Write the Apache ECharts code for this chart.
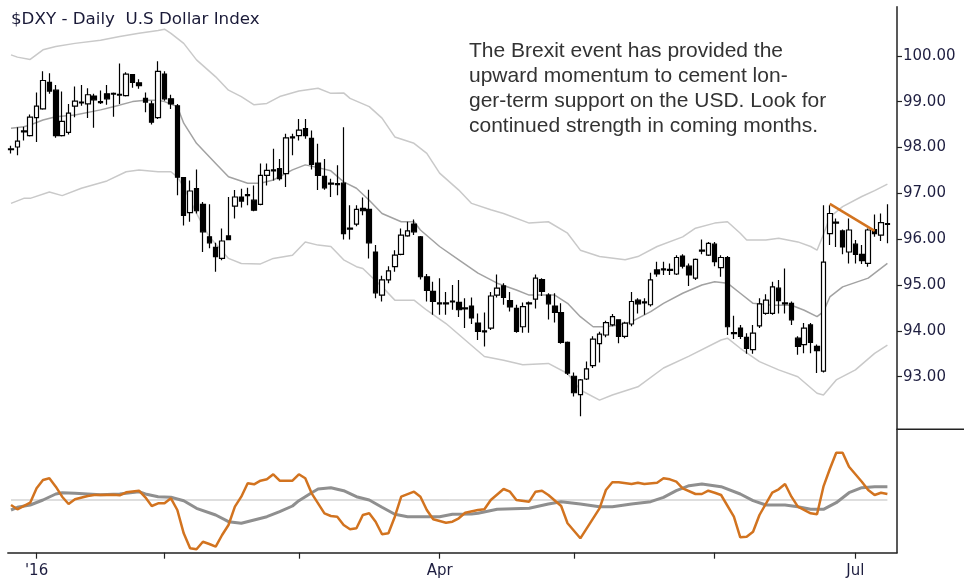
<!DOCTYPE html>
<html><head><meta charset="utf-8">
<script src="https://cdn.jsdelivr.net/npm/echarts@6/dist/echarts.min.js"></script>
<style>html,body{margin:0;padding:0;background:#fff}#c{width:964px;height:586px}</style>
</head><body><div id="c"></div>
<script>
// ---- data ----
// candles: [open, close, low, high]
const ohlc = [
[97.95,97.97,97.87,98.04],[98.01,98.14,97.83,98.44],[98.34,98.36,98.15,98.45],[98.26,98.66,98.24,98.72],
[98.65,98.90,98.12,99.20],[98.84,99.46,98.82,99.66],[99.42,99.23,99.17,99.62],[99.25,98.26,98.21,99.36],
[98.26,98.57,98.24,99.22],[98.33,98.75,98.28,98.95],[98.90,99.01,98.66,99.33],[98.97,98.99,98.91,99.36],
[98.95,99.15,98.64,99.29],[99.12,99.04,98.43,99.17],[98.98,99.00,98.95,99.24],[99.17,99.06,98.93,99.36],
[99.16,99.18,98.67,99.20],[99.14,99.16,98.95,99.83],[99.13,99.60,99.11,99.64],[99.59,99.42,99.30,99.60],
[99.41,99.35,99.28,99.49],[99.07,98.99,98.77,99.20],[98.95,98.55,98.50,99.02],[98.65,99.66,98.62,99.88],
[99.60,99.06,99.02,99.66],[99.06,98.95,98.84,99.15],[98.91,97.35,96.96,98.95],[97.34,96.52,96.30,97.35],
[96.58,97.05,96.38,97.28],[97.10,96.62,96.56,97.52],[96.76,96.16,95.72,96.81],[96.05,95.92,95.80,96.76],
[95.82,95.62,95.29,95.92],[95.58,95.96,95.54,96.23],[96.07,95.99,95.98,96.92],[96.72,96.92,96.45,97.07],
[96.92,96.83,96.69,97.10],[96.95,96.97,96.74,97.12],[96.85,96.63,96.61,97.17],[96.76,97.39,96.74,97.65],
[97.39,97.50,97.17,97.65],[97.49,97.51,97.28,97.97],[97.54,97.32,97.28,97.75],[97.43,98.21,97.14,98.30],
[98.21,98.23,97.83,98.30],[98.26,98.38,98.15,98.62],[98.41,98.26,98.19,98.62],[98.20,97.63,97.52,98.37],
[97.66,97.39,97.07,98.08],[97.37,97.12,97.08,97.75],[97.20,97.22,96.92,97.32],[97.19,97.21,96.96,97.61],
[97.22,96.12,95.99,98.44],[96.22,96.24,95.99,96.74],[96.33,96.65,96.28,96.74],[96.67,96.62,96.52,96.91],
[96.65,95.92,95.58,97.08],[95.72,94.83,94.71,95.87],[94.78,95.11,94.64,95.20],[95.11,95.31,95.04,95.41],
[95.40,95.65,95.29,95.76],[95.67,96.09,95.65,96.23],[96.07,96.18,96.05,96.38],[96.33,96.16,96.09,96.43],
[96.05,95.18,95.12,96.07],[95.18,94.88,94.64,95.24],[94.86,94.64,94.35,95.07],[94.61,94.59,94.35,95.15],
[94.59,94.61,94.35,94.85],[94.63,94.65,94.46,95.00],[94.62,94.46,94.30,95.11],[94.48,94.50,94.06,94.71],
[94.54,94.28,94.15,94.73],[94.17,93.99,93.80,94.38],[93.98,94.00,93.66,94.40],[94.06,94.76,94.02,94.85],
[94.78,94.93,94.73,95.23],[94.98,94.73,94.57,95.04],[94.66,94.52,94.42,94.85],[94.49,93.99,93.96,94.57],
[94.09,94.53,93.96,94.62],[94.59,94.61,93.96,94.64],[94.69,95.15,94.49,95.23],[95.12,94.86,94.76,95.15],
[94.78,94.59,94.25,94.82],[94.54,94.40,94.18,94.82],[94.40,93.75,93.72,94.60],[93.75,93.08,93.04,93.77],
[93.01,92.65,92.57,93.09],[92.61,92.93,92.14,92.95],[92.95,93.17,92.93,93.33],[93.24,93.82,93.19,93.88],
[93.72,93.93,93.31,93.98],[93.91,94.18,93.86,94.22],[94.13,94.31,94.10,94.37],[94.24,93.88,93.73,94.25],
[93.88,94.17,93.84,94.20],[94.15,94.64,94.10,94.85],[94.67,94.59,94.38,94.71],[94.61,94.63,94.35,94.71],
[94.57,95.11,94.53,95.27],[95.33,95.24,95.18,95.51],[95.33,95.35,95.22,95.51],[95.32,95.34,95.22,95.47],
[95.24,95.60,95.22,95.65],[95.63,95.41,95.36,95.67],[95.41,95.22,94.98,95.47],[95.15,95.56,95.11,95.58],
[95.74,95.76,95.67,95.99],[95.65,95.91,95.63,95.94],[95.89,95.51,95.41,95.94],[95.38,95.60,95.18,95.65],
[95.60,94.09,93.91,95.63],[93.94,93.96,93.82,94.33],[94.06,93.88,93.82,94.13],[93.86,93.62,93.50,93.95],
[93.59,93.95,93.50,94.13],[94.11,94.59,94.06,94.71],[94.38,94.67,94.35,94.80],[94.38,94.96,94.35,95.07],
[94.93,94.66,94.38,95.11],[94.59,94.61,94.38,95.36],[94.60,94.24,94.13,94.64],[93.84,93.66,93.48,93.88],
[93.70,94.06,93.51,94.17],[94.13,93.75,93.51,94.17],[93.66,93.57,93.08,93.70],[93.12,95.50,93.09,96.74],
[96.12,96.56,95.87,96.74],[96.35,96.37,95.83,96.45],[96.18,95.83,95.67,96.21],[95.72,96.20,95.47,96.45],
[95.89,95.67,95.47,95.98],[95.67,95.53,95.46,95.87],[95.47,96.20,95.40,96.23],[96.21,96.12,96.05,96.54],
[96.09,96.36,95.96,96.56],[96.32,96.34,95.91,96.76]
];
// envelope bands: [bar index, value]
const upperBand = [[0,100.02],[1,99.97],[3,99.92],[5,100.13],[7,100.20],[10,100.27],[14,100.34],[17,100.42],[20,100.49],[23,100.55],[24,100.58],[25,100.49],[27,100.27],[29,99.91],[32,99.54],[34,99.25],[36,99.11],[38,98.93],[40,98.96],[42,99.11],[45,99.23],[48,99.29],[50,99.18],[52,99.19],[53,99.07],[56,98.89],[58,98.64],[60,98.23],[63,98.09],[65,97.87],[67,97.44],[70,97.07],[72,96.78],[75,96.64],[77,96.56],[81,96.35],[84,96.38],[87,96.13],[89,95.76],[92,95.62],[96,95.55],[98,95.62],[101,95.84],[105,96.05],[107,96.24],[110,96.35],[112,96.38],[114,96.13],[115,95.98],[118,95.98],[120,96.02],[123,95.94],[125,95.84],[126,95.76],[127,96.10],[128,96.48],[130,96.71],[133,96.93],[135,97.06],[137,97.20]];
const midBand = [[0,98.42],[2,98.45],[3,98.49],[5,98.60],[7,98.67],[10,98.71],[14,98.82],[16,98.89],[19,99.00],[21,99.03],[23,99.03],[24,99.00],[26,98.89],[27,98.53],[29,98.09],[32,97.65],[34,97.36],[37,97.22],[39,97.22],[41,97.29],[44,97.51],[46,97.62],[48,97.56],[50,97.49],[52,97.25],[54,97.11],[56,96.85],[58,96.56],[61,96.38],[63,96.38],[64,96.20],[67,95.84],[70,95.55],[73,95.26],[76,95.04],[79,94.89],[81,94.78],[85,94.78],[87,94.60],[89,94.31],[91,94.09],[93,94.09],[95,94.13],[97,94.20],[100,94.42],[102,94.60],[105,94.82],[108,95.00],[110,95.07],[112,95.04],[114,94.82],[116,94.60],[119,94.56],[122,94.56],[124,94.45],[126,94.31],[127,94.42],[128,94.74],[130,94.96],[134,95.15],[137,95.47]];
const lowerBand = [[0,96.78],[2,96.89],[3,96.89],[6,97.03],[8,96.95],[11,97.11],[15,97.27],[18,97.47],[20,97.51],[23,97.47],[25,97.47],[26,97.36],[27,97.14],[28,96.85],[29,96.56],[31,96.05],[34,95.58],[36,95.47],[39,95.46],[41,95.58],[44,95.65],[46,95.94],[48,95.87],[50,95.84],[52,95.55],[54,95.40],[55,95.36],[58,94.96],[60,94.67],[63,94.67],[65,94.45],[68,94.16],[71,93.80],[74,93.44],[77,93.36],[80,93.26],[84,93.29],[87,93.07],[89,92.71],[92,92.49],[94,92.60],[98,92.78],[102,93.19],[106,93.45],[111,93.80],[112,93.84],[114,93.62],[117,93.33],[120,93.15],[123,93.00],[126,92.64],[127,92.60],[129,92.93],[132,93.15],[135,93.51],[137,93.69]];
// lower panel oscillators: [bar index, value]
const oscOrange = [[0,-0.5],[1,-0.93],[3,-0.27],[4,1.17],[5,2.0],[6,2.17],[7,1.33],[8,0.33],[9,-0.4],[10,0.07],[12,0.4],[13,0.5],[16,0.53],[17,0.47],[18,0.77],[20,0.93],[21,0.27],[22,-0.6],[23,-0.33],[24,-0.33],[25,0.17],[26,-1.0],[27,-3.33],[28,-4.83],[29,-4.93],[30,-4.17],[31,-4.4],[32,-4.67],[33,-3.5],[34,-2.5],[35,-0.67],[36,0.33],[37,1.67],[38,1.57],[39,1.93],[40,2.07],[41,2.57],[42,1.93],[44,1.93],[45,2.57],[46,2.17],[47,0.67],[49,-1.33],[50,-1.6],[51,-1.67],[52,-2.5],[53,-2.93],[54,-2.83],[55,-1.5],[56,-1.33],[57,-2.17],[58,-3.43],[59,-3.33],[60,-1.67],[61,0.33],[63,0.83],[64,0.33],[65,-1.0],[66,-1.93],[68,-2.27],[69,-2.17],[70,-1.83],[71,-1.27],[73,-1.0],[74,-0.93],[75,0.0],[77,1.1],[78,0.83],[79,0.0],[81,-0.17],[82,0.83],[83,0.93],[84,0.5],[86,-0.6],[87,-2.33],[89,-3.83],[90,-2.83],[92,-0.83],[93,1.0],[94,1.77],[95,1.77],[97,1.6],[98,1.73],[99,1.6],[101,1.73],[102,2.17],[103,2.07],[104,1.83],[105,1.17],[107,0.6],[108,0.6],[109,0.93],[110,0.73],[111,0.5],[113,-1.67],[114,-3.73],[115,-3.67],[116,-3.17],[117,-1.5],[119,0.73],[120,1.07],[121,1.6],[122,0.33],[123,-0.67],[125,-1.33],[126,-1.43],[127,1.33],[128,3.1],[129,4.73],[130,4.73],[131,3.33],[133,1.83],[134,1.0],[135,0.5],[136,0.73],[137,0.6]];
const oscGray = [[0,-1.0],[1,-0.73],[3,-0.5],[5,0],[7,0.6],[8,0.73],[10,0.67],[14,0.53],[17,0.6],[20,0.83],[21,0.6],[23,0.33],[25,0.27],[27,-0.07],[29,-0.83],[32,-1.5],[34,-2.17],[36,-2.33],[38,-2.0],[40,-1.67],[42,-1.17],[44,-0.6],[45,-0.07],[47,0.73],[48,1.1],[50,1.23],[52,0.93],[54,0.33],[56,0],[58,-0.73],[60,-1.43],[62,-1.67],[64,-1.67],[67,-1.67],[69,-1.43],[72,-1.4],[73,-1.33],[76,-0.93],[81,-0.83],[84,-0.4],[86,-0.17],[89,-0.4],[92,-0.67],[94,-0.67],[97,-0.4],[100,-0.17],[102,0.27],[104,0.93],[106,1.43],[108,1.6],[111,1.33],[114,0.6],[116,-0.07],[118,-0.5],[121,-0.5],[123,-0.67],[125,-0.93],[127,-0.93],[129,-0.27],[131,0.73],[133,1.23],[135,1.33],[137,1.33]];
const zeroLine = [[0,0],[137,0]];
const trendLine = [[128,96.77],[135,96.18]];
const yTickValues = [93,94,95,96,97,98,99,100];
const monthLabels = {'2016-01-04':"'16",'2016-04-01':'Apr','2016-07-01':'Jul'};
const titleText = '$DXY - Daily  U.S Dollar Index';
const noteText = ['The Brexit event has provided the','upward momentum to cement lon-','ger-term support on the USD. Look for','continued strength in coming months.'];

// ---- trading-day categories ----
const holidays = ['2016-01-01','2016-03-25'];
const dates = [];
const d = new Date(Date.UTC(2015,11,28));
while (dates.length < ohlc.length) {
  const wd = d.getUTCDay(); const s = d.toISOString().slice(0,10);
  if (wd !== 0 && wd !== 6 && holidays.indexOf(s) < 0) dates.push(s);
  d.setUTCDate(d.getUTCDate()+1);
}
const cats = dates.concat(['']);
const monthStarts = new Set();
dates.forEach((s,i)=>{ if (i>0 && s.slice(5,7)!==dates[i-1].slice(5,7)) monthStarts.add(i); });

const chart = echarts.init(document.getElementById('c'), null, {renderer:'canvas'});
const axisColor = '#222';
const labelColor = '#1e1e40';
const L = 7.8, R = 67;
chart.setOption({
  animation:false,
  backgroundColor:'#fff',
  title:[
    {text:titleText,left:11,top:10,padding:0,textStyle:{fontFamily:'DejaVu Sans',fontSize:16.7,fontWeight:'normal',color:'#1a1a38',lineHeight:20}},
    {text:noteText.join('\n'),left:469,top:38.5,padding:0,textStyle:{fontFamily:'Liberation Sans',fontSize:21,fontWeight:'normal',color:'#333',lineHeight:25}}
  ],
  grid:[
    {left:L,right:R,top:6.7,height:422.6},
    {left:L,right:R,top:429.3,height:123.4}
  ],
  xAxis:[
    {type:'category',gridIndex:0,data:cats,boundaryGap:true,show:false},
    {type:'category',gridIndex:1,data:cats,boundaryGap:true,
     axisLine:{show:true,onZero:false,lineStyle:{color:axisColor,width:1.5}},
     axisTick:{show:true,alignWithLabel:true,length:6,lineStyle:{color:axisColor,width:1.2},interval:(i)=>monthStarts.has(i)},
     axisLabel:{show:true,interval:(i,v)=>!!monthLabels[v],formatter:(v)=>monthLabels[v]||'',color:labelColor,fontFamily:'DejaVu Sans',fontSize:15,margin:11},
     splitLine:{show:false}}
  ],
  yAxis:[
    {type:'value',gridIndex:0,position:'right',min:91.853,max:101.07,scale:true,
     axisLine:{show:true,onZero:false,lineStyle:{color:axisColor,width:1.5}},
     axisTick:{show:true,inside:false,length:5,customValues:yTickValues,lineStyle:{color:axisColor,width:1.2}},
     axisLabel:{show:true,customValues:yTickValues,formatter:(v)=>Number(v).toFixed(2),color:labelColor,fontFamily:'DejaVu Sans',fontSize:15,margin:6},
     splitLine:{show:false}},
    {type:'value',gridIndex:1,position:'right',min:-5.27,max:7.07,
     axisLine:{show:true,onZero:false,lineStyle:{color:axisColor,width:1.5}},axisTick:{show:false},axisLabel:{show:false},splitLine:{show:false}}
  ],
  graphic:[
    {type:'line',shape:{x1:897,y1:429.3,x2:964,y2:429.3},style:{stroke:axisColor,lineWidth:1.5},silent:true}
  ],
  series:[
    {type:'line',xAxisIndex:0,yAxisIndex:0,data:upperBand,showSymbol:false,silent:true,lineStyle:{color:'#c9c9c9',width:1.5},z:1},
    {type:'line',xAxisIndex:0,yAxisIndex:0,data:lowerBand,showSymbol:false,silent:true,lineStyle:{color:'#c9c9c9',width:1.5},z:1},
    {type:'line',xAxisIndex:0,yAxisIndex:0,data:midBand,showSymbol:false,silent:true,lineStyle:{color:'#a2a2a2',width:1.5},z:1},
    {type:'candlestick',xAxisIndex:0,yAxisIndex:0,data:ohlc,barWidth:5,silent:true,z:3,
     itemStyle:{color:'#ffffff',color0:'#000000',borderColor:'#000000',borderColor0:'#000000',borderWidth:1.2}},
    {type:'line',xAxisIndex:0,yAxisIndex:0,data:trendLine,showSymbol:false,silent:true,lineStyle:{color:'#d2731f',width:2.5},z:5},
    {type:'line',xAxisIndex:1,yAxisIndex:1,data:zeroLine,showSymbol:false,silent:true,lineStyle:{color:'#bdbdbd',width:1},z:1},
    {type:'line',xAxisIndex:1,yAxisIndex:1,data:oscGray,showSymbol:false,silent:true,lineStyle:{color:'#8f8f8f',width:3},z:2},
    {type:'line',xAxisIndex:1,yAxisIndex:1,data:oscOrange,showSymbol:false,silent:true,lineStyle:{color:'#d2731f',width:2.5},z:3}
  ]
});
</script></body></html>
